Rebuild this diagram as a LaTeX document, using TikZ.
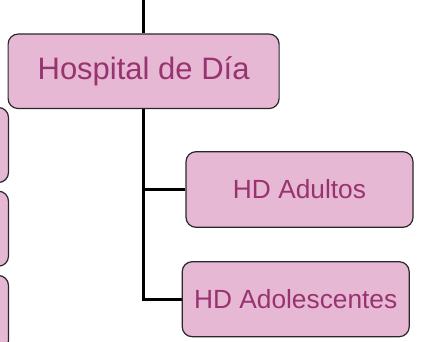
\documentclass[tikz,border=0pt]{standalone}
\usepackage{fontspec}
\setmainfont{Liberation Sans}
\usetikzlibrary{backgrounds}
\definecolor{boxfill}{RGB}{230,184,212}
\definecolor{boxtext}{RGB}{153,51,112}
\definecolor{boxline}{RGB}{40,40,40}
\begin{document}
\begin{tikzpicture}[x=1pt,y=-1pt,
  box/.style={draw=boxline, line width=1.2pt, fill=boxfill, rounded corners=10pt,
    inner sep=0pt, text=boxtext, anchor=center},
  conn/.style={draw=black, line width=3pt, line join=miter}]
\useasboundingbox (0,0) rectangle (423,342);
\clip (0,0) rectangle (423,342);
\coordinate (top) at (143.6,0);
\node[box, minimum width=271pt, minimum height=74.5pt, font=\fontsize{31}{36}\selectfont] (main) at (143.6,71.3) {Hospital de Día};
\node[box, minimum width=227pt, minimum height=75.6pt, font=\fontsize{26.3}{31}\selectfont] (adu) at (299.5,189.5) {HD Adultos};
\node[box, minimum width=227pt, minimum height=75pt, font=\fontsize{26.3}{31}\selectfont] (ado) at (295.7,299.2) {HD Adolescentes};
\node[box, minimum width=227pt, minimum height=75pt] (l1) at (-105,145) {};
\node[box, minimum width=227pt, minimum height=75pt] (l2) at (-105,228.7) {};
\node[box, minimum width=227pt, minimum height=75pt] (l3) at (-105,313) {};
\begin{pgfonlayer}{background}
\draw[conn] (top) -- (main.north);
\draw[conn] (main.south) -- (main.south |- ado.west) -- (ado.west);
\draw[conn] (main.south |- adu.west) -- (adu.west);
\end{pgfonlayer}
\end{tikzpicture}
\end{document}
